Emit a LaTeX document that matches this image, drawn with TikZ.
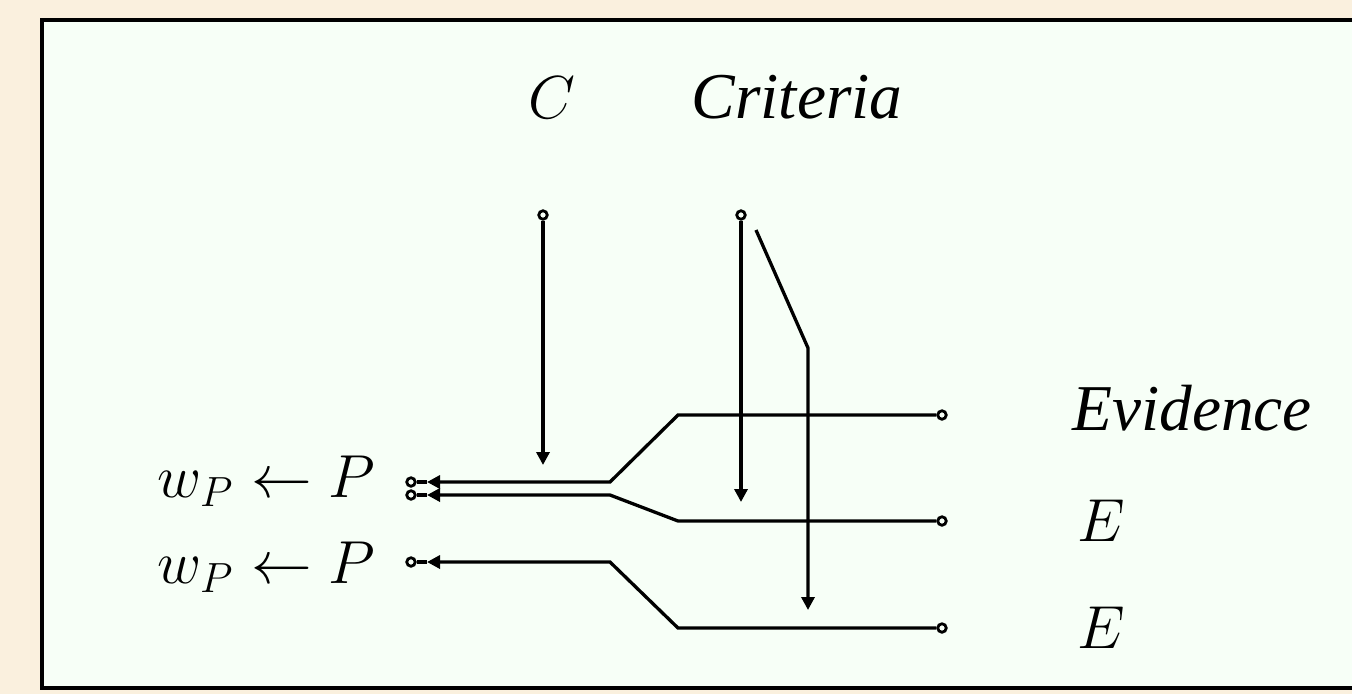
\documentclass[tikz,border=0pt]{standalone}
\usepackage{fontspec}
\newfontfamily\timesit{Liberation Serif}[ItalicFont={Liberation Serif Italic}]
\usepackage{tikz}
\usetikzlibrary{arrows.meta}
\definecolor{pagebg}{RGB}{250,240,222}
\definecolor{panelbg}{RGB}{247,255,247}

\begin{document}
\begin{tikzpicture}[
  x=0.1mm, y=-0.1mm,
  wire/.style={line width=0.33mm, line join=miter},
  arr/.style={wire, -{Triangle[length=1.3mm, width=1.3mm]}},
  pin/.style={draw, line width=0.28mm, fill=panelbg, circle, inner sep=0pt, minimum size=0.85mm},
  lbl/.style={font=\fontsize{18.6}{22}\selectfont, inner sep=0pt},
  plbl/.style={font=\fontsize{18.8}{22}\selectfont, inner sep=0pt, anchor=base east}
]
\useasboundingbox (0,0) rectangle (1352,694);
% background and panel
\fill[pagebg] (0,0) rectangle (1352,694);
\draw[line width=0.33mm, fill=panelbg] (42,20) rectangle (1370,688);

% labels
\node[lbl, anchor=base] (c) at (552,118) {$C$};
\node[lbl, anchor=base] (crit) at (797,118) {\timesit\itshape Criteria};
\node[lbl, anchor=base] (ev) at (1192,430) {\timesit\itshape Evidence};
\node[lbl] (e1) at (1101,521) {$E$};
\node[lbl] (e2) at (1101,628) {$E$};
\node[plbl] (p1) at (376,497) {$w_P\leftarrow P$};
\node[plbl] (p2) at (376,583) {$w_P\leftarrow P$};

% pins
\node[pin] (cin) at (543,215) {};
\node[pin] (rin) at (741,215) {};
\node[pin] (evin) at (942,415) {};
\node[pin] (e1in) at (942,521) {};
\node[pin] (e2in) at (942,628) {};
\node[pin] (p1a) at (411,482) {};
\node[pin] (p1b) at (411,495) {};
\node[pin] (p2a) at (411,562) {};

% arrow tips and bends
\coordinate (ctip) at (543,465);
\coordinate (rtip) at (741,502);
\coordinate (stop) at (756,230);
\coordinate (sbend) at (808,348);
\coordinate (stip) at (808,610);
\coordinate (t1) at (427,482);
\coordinate (t2) at (427,495);
\coordinate (t3) at (427,562);

% control inputs
\draw[arr] (cin) -- (ctip);
\draw[arr] (rin) -- (rtip);
\draw[arr] (stop) -- (sbend) -- (stip);

% evidence lines
\draw[arr] (evin) -- (678,415) -- (610,482) -- (t1);
\draw[arr] (e1in) -- (678,521) -- (610,495) -- (t2);
\draw[arr] (e2in) -- (678,628) -- (610,562) -- (t3);
\draw[wire] (t1) -- (p1a);
\draw[wire] (t2) -- (p1b);
\draw[wire] (t3) -- (p2a);
\end{tikzpicture}
\end{document}
